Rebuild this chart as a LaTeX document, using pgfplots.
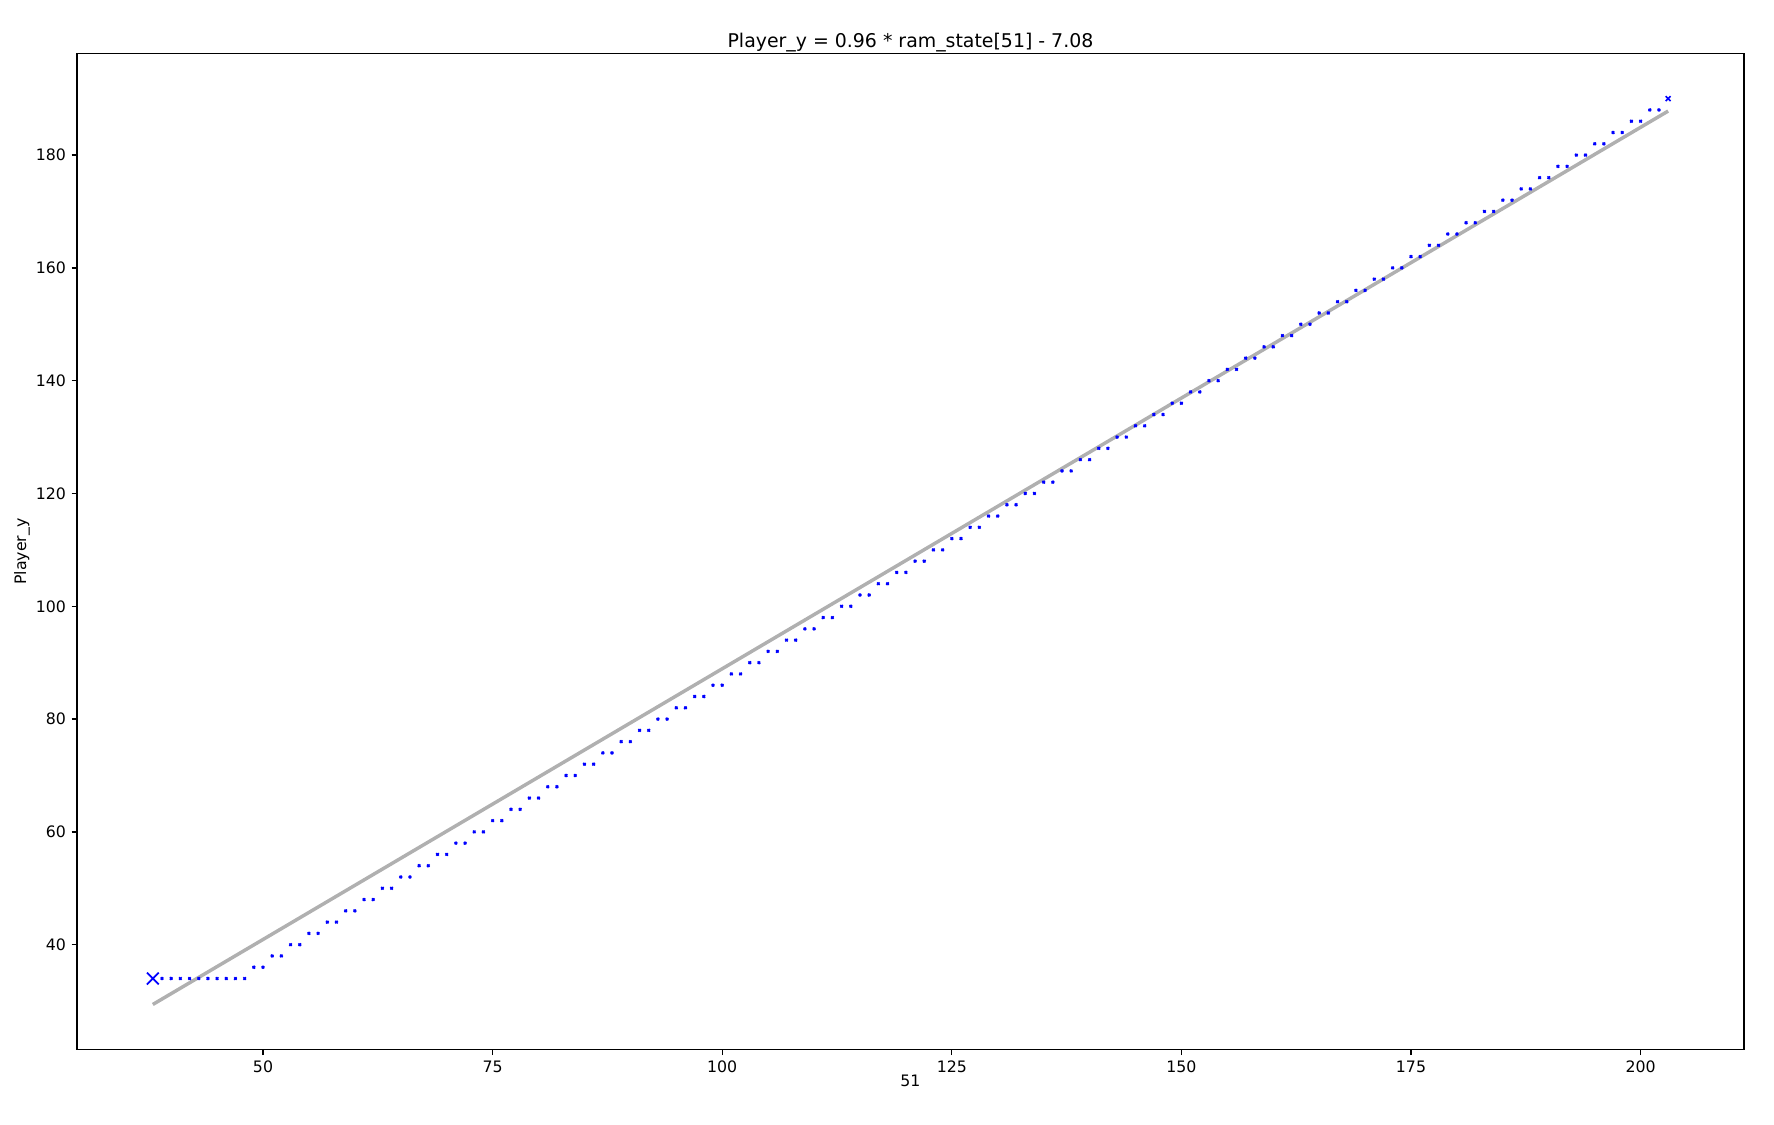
\documentclass[border=0pt]{standalone}
\usepackage{fontspec}
\setmainfont{DejaVu Sans}
\usepackage{pgfplots}
\usepackage{pgfplotstable}
\pgfplotsset{compat=1.18}

% ram_state[51] vs Player_y
\pgfplotstableread{
x y
39 34
40 34
41 34
42 34
43 34
44 34
45 34
46 34
47 34
48 34
49 36
50 36
51 38
52 38
53 40
54 40
55 42
56 42
57 44
58 44
59 46
60 46
61 48
62 48
63 50
64 50
65 52
66 52
67 54
68 54
69 56
70 56
71 58
72 58
73 60
74 60
75 62
76 62
77 64
78 64
79 66
80 66
81 68
82 68
83 70
84 70
85 72
86 72
87 74
88 74
89 76
90 76
91 78
92 78
93 80
94 80
95 82
96 82
97 84
98 84
99 86
100 86
101 88
102 88
103 90
104 90
105 92
106 92
107 94
108 94
109 96
110 96
111 98
112 98
113 100
114 100
115 102
116 102
117 104
118 104
119 106
120 106
121 108
122 108
123 110
124 110
125 112
126 112
127 114
128 114
129 116
130 116
131 118
132 118
133 120
134 120
135 122
136 122
137 124
138 124
139 126
140 126
141 128
142 128
143 130
144 130
145 132
146 132
147 134
148 134
149 136
150 136
151 138
152 138
153 140
154 140
155 142
156 142
157 144
158 144
159 146
160 146
161 148
162 148
163 150
164 150
165 152
166 152
167 154
168 154
169 156
170 156
171 158
172 158
173 160
174 160
175 162
176 162
177 164
178 164
179 166
180 166
181 168
182 168
183 170
184 170
185 172
186 172
187 174
188 174
189 176
190 176
191 178
192 178
193 180
194 180
195 182
196 182
197 184
198 184
199 186
200 186
201 188
202 188
}\datatable

\definecolor{fitgray}{RGB}{176,176,176}
\definecolor{ptblue}{RGB}{0,0,255}

\begin{document}
\begin{tikzpicture}
\path (0,0) rectangle (1126pt,713.6pt);
\begin{axis}[
	at={(48.9pt,47.4pt)}, anchor=south west,
	width=1058pt, height=632.2pt, scale only axis,
	xmin=29.75, xmax=211.25,
	ymin=21.4, ymax=198.0,
	xtick={50,75,100,125,150,175,200},
	ytick={40,60,80,100,120,140,160,180},
	tick align=outside, tick pos=left,
	major tick length=3.5pt,
	every tick/.style={black, line width=0.8pt},
	axis line style={line width=0.8pt},
	/pgf/number format/assume math mode=true,
	tick label style={font=\fontsize{10}{12}\selectfont},
	label style={font=\fontsize{10}{12}\selectfont},
	xlabel style={yshift=5.5pt},
	ylabel style={yshift=-3pt},
	title style={font=\fontsize{12}{14}\selectfont, at={(0.5,1)}, anchor=south, yshift=-8.3pt},
	title={Player\_y = 0.96 * ram\_state[51] - 7.08},
	xlabel={51},
	ylabel={Player\_y},
	]
	\addplot[fitgray, line width=2.2pt] coordinates {(38,29.40) (203,187.80)};
	\addplot[only marks, mark=x, mark size=1.1pt, ptblue, line width=1pt] table[x=x, y=y] {\datatable};
	\addplot[only marks, mark=x, mark size=5.3pt, ptblue, line width=1.1pt] coordinates {(38,34)};
	\addplot[only marks, mark=x, mark size=2.2pt, ptblue, line width=1pt] coordinates {(203,190)};
\end{axis}
\end{tikzpicture}
\end{document}
